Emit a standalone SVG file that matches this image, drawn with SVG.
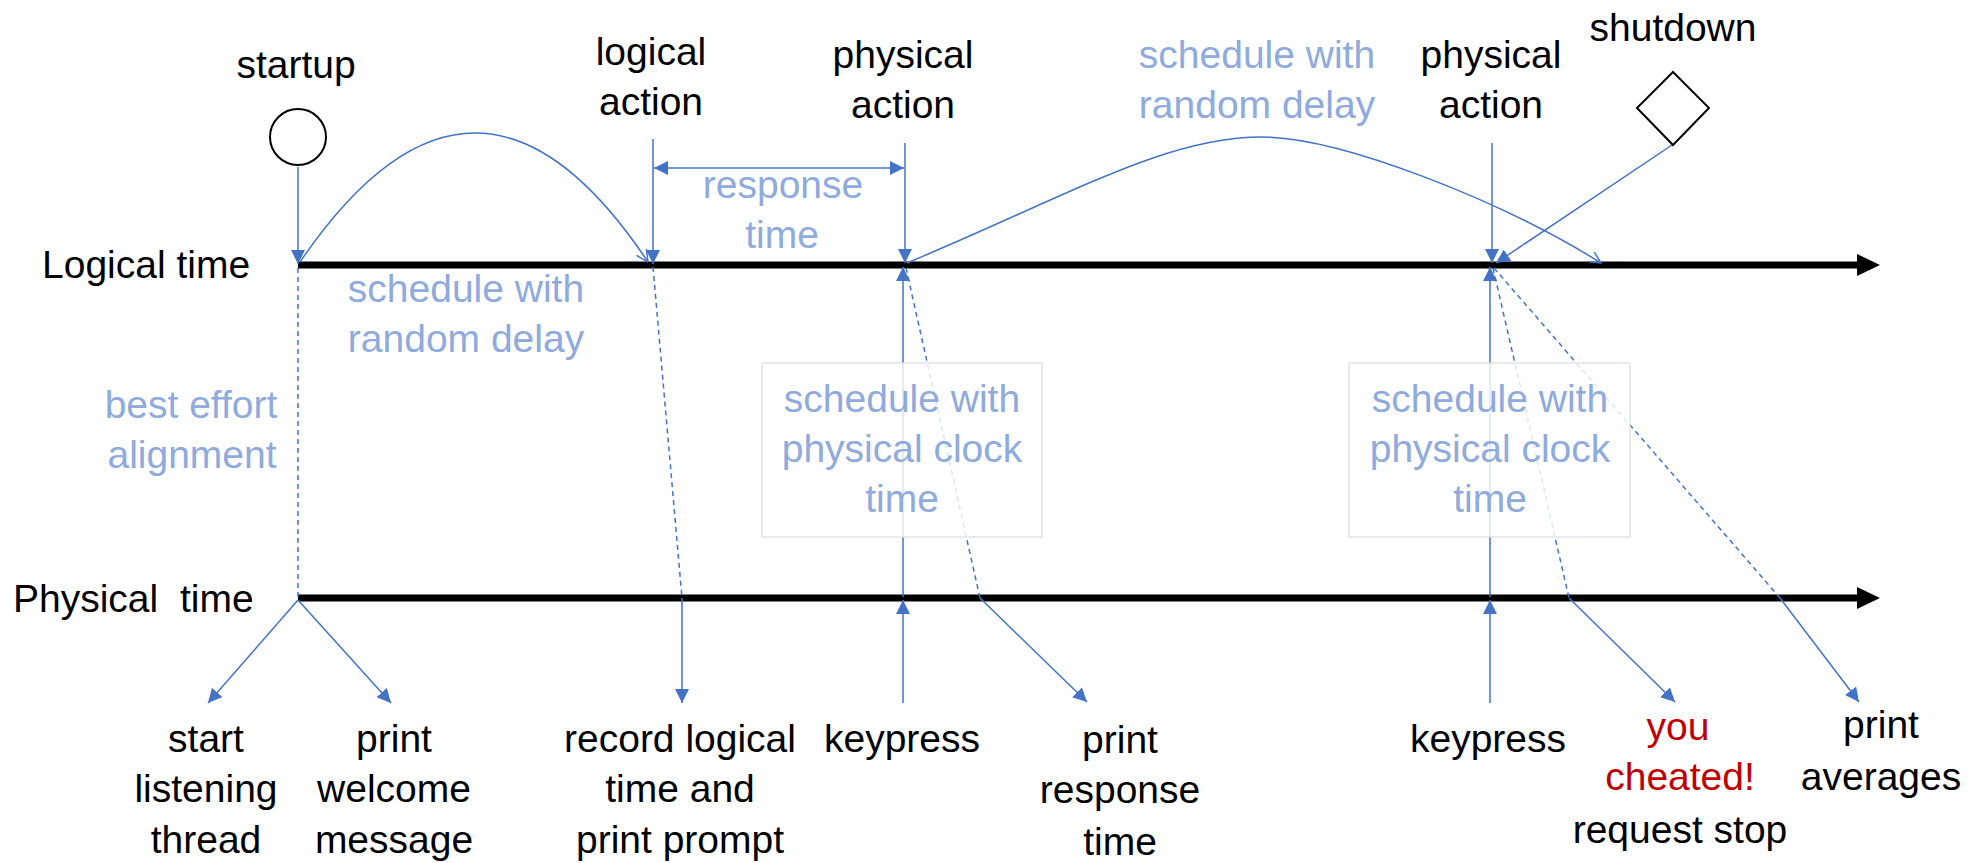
<svg xmlns="http://www.w3.org/2000/svg" width="1980" height="863" viewBox="0 0 1980 863">
<style>
  text { font-family: "Liberation Sans", Arial, sans-serif; font-size: 39px; text-anchor: middle; fill: #000; }
  .blue { fill: #8faadc; }
  .red { fill: #c00000; }
  .ln { stroke: #4472c4; stroke-width: 1.5; fill: none; }
  .dash { stroke-dasharray: 5 4; }
  .axis { stroke: #000; stroke-width: 7; fill: none; }
  .box { fill: #ffffff; fill-opacity: 0.82; stroke: #d9dde6; stroke-width: 1.2; }
</style>
<defs>
  <marker id="fa" viewBox="0 0 10 10" refX="10" refY="5" markerUnits="userSpaceOnUse" markerWidth="14" markerHeight="14" orient="auto-start-reverse">
    <path d="M0,0 L10,5 L0,10 z" fill="#4472c4"/>
  </marker>
  <marker id="oa" viewBox="0 0 10 10" refX="10" refY="5" markerUnits="userSpaceOnUse" markerWidth="13" markerHeight="12" orient="auto">
    <path d="M0,0 L10,5 L0,10" fill="none" stroke="#4472c4" stroke-width="1.2"/>
  </marker>
</defs>
<rect width="1980" height="863" fill="#fff"/>

<g id="axes">
  <line class="axis" x1="298" y1="265" x2="1860" y2="265"/>
  <polygon points="1857,254 1880,265 1857,276" fill="#000"/>
  <line class="axis" x1="298" y1="598" x2="1860" y2="598"/>
  <polygon points="1857,587 1880,598 1857,609" fill="#000"/>
</g>

<g id="connectors">
  <!-- startup -->
  <line class="ln" x1="298" y1="167" x2="298" y2="264" marker-end="url(#fa)"/>
  <line class="ln dash" x1="298" y1="268" x2="298" y2="598"/>
  <line class="ln" x1="298" y1="600" x2="208" y2="703" marker-end="url(#fa)"/>
  <line class="ln" x1="298" y1="600" x2="391" y2="703" marker-end="url(#fa)"/>
  <path class="ln" d="M300,262 Q476,4 648,262" marker-end="url(#oa)"/>
  <!-- logical action -->
  <line class="ln" x1="653" y1="139" x2="653" y2="264" marker-end="url(#fa)"/>
  <line class="ln dash" x1="653" y1="267" x2="682" y2="598"/>
  <line class="ln" x1="682" y1="598" x2="682" y2="703" marker-end="url(#fa)"/>
  <line class="ln" x1="654" y1="168" x2="904" y2="168" marker-start="url(#fa)" marker-end="url(#fa)"/>
  <!-- physical action 1 -->
  <line class="ln" x1="905" y1="143" x2="905" y2="263" marker-end="url(#fa)"/>
  <line class="ln" x1="903" y1="597" x2="903" y2="267" marker-end="url(#fa)"/>
  <line class="ln" x1="903" y1="703" x2="903" y2="600" marker-end="url(#fa)"/>
  <line class="ln dash" x1="906" y1="268" x2="980" y2="598"/>
  <line class="ln" x1="980" y1="598" x2="1087" y2="702" marker-end="url(#fa)"/>
  <path class="ln" d="M907,263 C1070,195 1165,137 1262,137 C1340,137 1500,200 1601,263" marker-end="url(#oa)"/>
  <!-- physical action 2 -->
  <line class="ln" x1="1492" y1="143" x2="1492" y2="263" marker-end="url(#fa)"/>
  <line class="ln" x1="1672" y1="145" x2="1496" y2="263" marker-end="url(#fa)"/>
  <line class="ln" x1="1490" y1="597" x2="1490" y2="267" marker-end="url(#fa)"/>
  <line class="ln" x1="1490" y1="703" x2="1490" y2="600" marker-end="url(#fa)"/>
  <line class="ln dash" x1="1493" y1="268" x2="1569" y2="598"/>
  <line class="ln" x1="1569" y1="598" x2="1675" y2="702" marker-end="url(#fa)"/>
  <line class="ln dash" x1="1494" y1="268" x2="1780" y2="598"/>
  <line class="ln" x1="1780" y1="598" x2="1859" y2="702" marker-end="url(#fa)"/>
</g>

<g id="axis-labels">
  <text x="42" y="278" style="text-anchor:start">Logical time</text>
  <text x="13" y="612" style="text-anchor:start;white-space:pre" xml:space="preserve">Physical  time</text>
</g>

<g id="startup">
  <circle cx="298" cy="137" r="28" fill="#fff" stroke="#000" stroke-width="2"/>
  <text x="296" y="78">startup</text>
</g>
<g id="logical-action">
  <text x="651" y="65">logical</text>
  <text x="651" y="115">action</text>
</g>
<g id="physical-action-1">
  <text x="903" y="68">physical</text>
  <text x="903" y="118">action</text>
</g>
<g id="physical-action-2">
  <text x="1491" y="68">physical</text>
  <text x="1491" y="118">action</text>
</g>
<g id="shutdown">
  <polygon points="1673,72 1709,108 1673,145 1637,108" fill="#fff" stroke="#000" stroke-width="2"/>
  <text x="1673" y="41">shutdown</text>
</g>

<g id="label-schedule-random-1">
  <text class="blue" x="466" y="302">schedule with</text>
  <text class="blue" x="466" y="352">random delay</text>
</g>
<g id="label-response-time">
  <text class="blue" x="783" y="198">response</text>
  <text class="blue" x="782" y="248">time</text>
</g>
<g id="label-best-effort">
  <text class="blue" x="191" y="418">best effort</text>
  <text class="blue" x="192" y="468">alignment</text>
</g>
<g id="label-schedule-random-2">
  <text class="blue" x="1257" y="68">schedule with</text>
  <text class="blue" x="1257" y="118">random delay</text>
</g>
<g id="box-physical-clock-1">
  <rect class="box" x="762" y="363" width="280" height="174"/>
  <text class="blue" x="902" y="412">schedule with</text>
  <text class="blue" x="902" y="462">physical clock</text>
  <text class="blue" x="902" y="512">time</text>
</g>
<g id="box-physical-clock-2">
  <rect class="box" x="1349" y="363" width="281" height="174"/>
  <text class="blue" x="1490" y="412">schedule with</text>
  <text class="blue" x="1490" y="462">physical clock</text>
  <text class="blue" x="1490" y="512">time</text>
</g>

<g id="start-listening">
  <text x="206" y="752">start</text>
  <text x="206" y="802">listening</text>
  <text x="206" y="853">thread</text>
</g>
<g id="print-welcome">
  <text x="394" y="752">print</text>
  <text x="394" y="802">welcome</text>
  <text x="394" y="853">message</text>
</g>
<g id="record-logical">
  <text x="680" y="752">record logical</text>
  <text x="680" y="802">time and</text>
  <text x="680" y="853">print prompt</text>
</g>
<g id="keypress-1">
  <text x="902" y="752">keypress</text>
</g>
<g id="print-response">
  <text x="1120" y="753">print</text>
  <text x="1120" y="803">response</text>
  <text x="1120" y="855">time</text>
</g>
<g id="keypress-2">
  <text x="1488" y="752">keypress</text>
</g>
<g id="you-cheated">
  <text class="red" x="1678" y="740">you</text>
  <text class="red" x="1680" y="790">cheated!</text>
  <text x="1680" y="843">request stop</text>
</g>
<g id="print-averages">
  <text x="1881" y="738">print</text>
  <text x="1881" y="790">averages</text>
</g>
</svg>
